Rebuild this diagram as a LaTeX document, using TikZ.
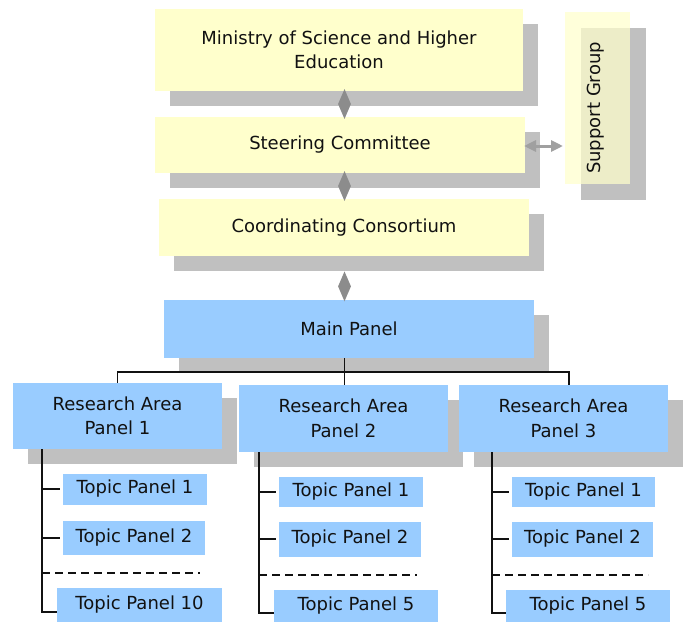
\documentclass[tikz,border=0pt]{standalone}
\usepackage{fontspec}
\setmainfont{DejaVu Sans}
\usetikzlibrary{shapes.geometric,shadows,arrows.meta,calc}

\definecolor{boxyellow}{HTML}{FFFFCC}
\definecolor{boxblue}{HTML}{99CCFF}
\definecolor{shadowgray}{HTML}{C0C0C0}
\definecolor{diamgray}{HTML}{8C8C8C}
\definecolor{arrowgray}{HTML}{A0A0A0}
\definecolor{inkdark}{HTML}{111111}

\tikzset{
  txt/.style={font=\fontsize{18}{24.5}\selectfont, text=inkdark, align=center},
  plainbox/.style={txt, inner sep=0pt, outer sep=0pt, rectangle},
  shadowed/.style={drop shadow={shadow xshift=15pt, shadow yshift=-15pt,
                   fill=shadowgray, opacity=1}},
  yellowbox/.style={plainbox, fill=boxyellow, shadowed},
  bluebox/.style={plainbox, fill=boxblue, shadowed},
  topicbox/.style={plainbox, fill=boxblue},
  diam/.style={diamond, fill=diamgray, draw=none, inner sep=0pt,
               minimum width=13pt, minimum height=30pt},
  wire/.style={draw=inkdark, line width=1.8pt},
  dashwire/.style={draw=inkdark, line width=1.5pt, dash pattern=on 8pt off 5pt},
  twoway/.style={draw=arrowgray, line width=3pt,
                 {Triangle[length=12pt,width=11pt]}-{Triangle[length=12pt,width=11pt]}},
}

\begin{document}
\begin{tikzpicture}[x=1pt,y=-1pt]
  \useasboundingbox[fill=white] (0,0) rectangle (687,622);

  % upper governance boxes
  \node[yellowbox, minimum width=368pt, minimum height=82pt] (ministry) at (339,50)
       {Ministry of Science and Higher\\Education};
  \node[yellowbox, minimum width=370pt, minimum height=56pt] (steer) at (340,145)
       {Steering Committee};
  \node[yellowbox, minimum width=370pt, minimum height=57pt] (coord) at (344,227.5)
       {Coordinating Consortium};

  % side box, slightly see-through over its shadow
  \node[plainbox, fill=boxyellow, fill opacity=0.72, text opacity=1,
        drop shadow={shadow xshift=16pt, shadow yshift=-16pt, fill=shadowgray, opacity=1},
        minimum width=65pt, minimum height=172pt] (support) at (597.5,98) {};
  \node[txt, rotate=90, inner sep=0pt] (supporttext) at (596,108) {Support Group};

  % panels
  \node[bluebox, minimum width=370pt, minimum height=58pt] (main) at (349,329)
       {Main Panel};
  \node[bluebox, minimum width=209pt, minimum height=66pt] (ra1) at (117.5,416)
       {Research Area\\Panel 1};
  \node[bluebox, minimum width=209pt, minimum height=67pt] (ra2) at (343.5,418.5)
       {Research Area\\Panel 2};
  \node[bluebox, minimum width=209pt, minimum height=67pt] (ra3) at (563.5,418.5)
       {Research Area\\Panel 3};

  % topic panels, column 1
  \node[topicbox, minimum width=144pt, minimum height=31pt] (ta1) at (135,489) {Topic Panel 1};
  \node[topicbox, minimum width=142pt, minimum height=34pt] (ta2) at (134,538) {Topic Panel 2};
  \node[topicbox, minimum width=165pt, minimum height=34pt] (ta3) at (139.5,605) {Topic Panel 10};
  % column 2
  \node[topicbox, minimum width=144pt, minimum height=30pt] (tb1) at (351,492) {Topic Panel 1};
  \node[topicbox, minimum width=142pt, minimum height=35pt] (tb2) at (350,539) {Topic Panel 2};
  \node[topicbox, minimum width=164pt, minimum height=32pt] (tb3) at (356,606) {Topic Panel 5};
  % column 3
  \node[topicbox, minimum width=143pt, minimum height=30pt] (tc1) at (583.5,492) {Topic Panel 1};
  \node[topicbox, minimum width=141pt, minimum height=35pt] (tc2) at (582.5,539) {Topic Panel 2};
  \node[topicbox, minimum width=164pt, minimum height=32pt] (tc3) at (588,606) {Topic Panel 5};

  % diamond links along the central spine
  \coordinate (spine) at (344.5,0);
  \path (ministry.south -| spine) -- (steer.north -| spine) node[midway, diam] (d1) {};
  \path (steer.south -| spine) -- (coord.north -| spine) node[midway, diam] (d2) {};
  \path (coord.south -| spine) -- (main.north -| spine) node[pos=0.69, diam] (d3) {};

  % two-way link to the side box
  \coordinate (sidelink) at (0,146);
  \draw[twoway] ([xshift=-1pt]steer.east |- sidelink) -- ([xshift=-2pt]support.west |- sidelink);

  % tree from the main panel
  \coordinate (busR) at (569,372);
  \draw[wire] (main.south -| spine) -- (ra2.north -| spine);
  \draw[wire] (ra1.north) |- (busR) -- (ra3.north -| busR);

  % column 1 branches
  \coordinate (ca) at (42,0);
  \coordinate (caend) at (57,612);
  \draw[wire] (ra1.south -| ca) |- (caend);
  \draw[wire] (ta1.west -| ca) -- ([xshift=-3pt]ta1.west);
  \draw[wire] (ta2.west -| ca) -- ([xshift=-3pt]ta2.west);
  \coordinate (cadash) at (200,573);
  \draw[dashwire] (cadash -| ca) -- (cadash);

  % column 2 branches
  \coordinate (cb) at (259,0);
  \coordinate (cbend) at (274,613);
  \draw[wire] (ra2.south -| cb) |- (cbend);
  \draw[wire] (tb1.west -| cb) -- ([xshift=-3pt]tb1.west);
  \draw[wire] (tb2.west -| cb) -- ([xshift=-3pt]tb2.west);
  \coordinate (cbdash) at (417,575);
  \draw[dashwire] (cbdash -| cb) -- (cbdash);

  % column 3 branches
  \coordinate (cc) at (492,0);
  \coordinate (ccend) at (506,613);
  \draw[wire] (ra3.south -| cc) |- (ccend);
  \draw[wire] (tc1.west -| cc) -- ([xshift=-3pt]tc1.west);
  \draw[wire] (tc2.west -| cc) -- ([xshift=-3pt]tc2.west);
  \coordinate (ccdash) at (648,575);
  \draw[dashwire] (ccdash -| cc) -- (ccdash);
\end{tikzpicture}
\end{document}
